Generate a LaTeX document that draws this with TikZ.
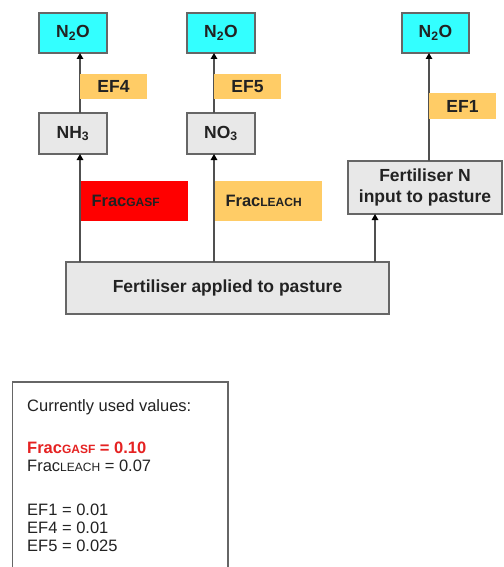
\documentclass[tikz,border=0pt]{standalone}
\usepackage{fontspec}
\setmainfont{Liberation Sans}
\usetikzlibrary{arrows.meta}
\definecolor{cyanbox}{HTML}{33FFFF}
\definecolor{orangebox}{HTML}{FFCC66}
\definecolor{graybox}{HTML}{E8E8E8}
\definecolor{edgegray}{HTML}{666666}
\definecolor{linegray}{HTML}{505050}
\definecolor{redbox}{HTML}{FF0000}
\definecolor{redtext}{HTML}{E52222}
\definecolor{txt}{HTML}{222222}
\newcommand{\smc}[1]{{\fontsize{12}{12}\selectfont #1}}
\tikzset{
  base/.style={inner sep=0pt, outer sep=0pt, text=txt, font=\fontsize{17.5}{21}\selectfont\bfseries},
  gasbox/.style={base, draw=edgegray, line width=1.2pt, fill=cyanbox},
  midbox/.style={base, draw=edgegray, line width=1.2pt, fill=graybox},
  efbox/.style={base, fill=orangebox},
  fracbox/.style={base, font=\fontsize{16.5}{20}\selectfont\bfseries, anchor=north west, text width=85pt, inner xsep=11pt, align=left},
  arr/.style={draw=linegray, line width=1.3pt, -{Triangle[length=6pt,width=6.5pt,color=black]}},
  valtext/.style={inner sep=0pt, text=txt, font=\fontsize{16.5}{19}\selectfont},
}
\begin{document}
\begin{tikzpicture}[x=1pt,y=-1pt]
\path[use as bounding box] (0,0) rectangle (503,567);
\clip (0,0) rectangle (503,567);
\fill[white] (0,0) rectangle (503,567);

% top gas boxes
\node[gasbox, minimum width=68pt, minimum height=40pt] (g1) at (73,33) {N\textsubscript{2}O};
\node[gasbox, minimum width=68pt, minimum height=40pt] (g2) at (221,33) {N\textsubscript{2}O};
\node[gasbox, minimum width=67pt, minimum height=40pt] (g3) at (435.5,33) {N\textsubscript{2}O};

% intermediate boxes
\node[midbox, minimum width=68pt, minimum height=41pt] (nh3) at (73,133.5) {NH\textsubscript{3}};
\node[midbox, minimum width=68pt, minimum height=41pt] (no3) at (221,133.5) {NO\textsubscript{3}};

% fertiliser boxes
\node[midbox, minimum width=154pt, minimum height=53pt, align=center] (fn) at (425,187.5) {Fertiliser N\\[0pt]input to pasture};
\node[midbox, minimum width=323pt, minimum height=52pt] (fap) at (227.5,288) {Fertiliser applied to pasture};

% connectors
\coordinate (c1) at (80,0);
\coordinate (c2) at (214,0);
\coordinate (c3) at (429,0);
\coordinate (c4) at (375,0);
\draw[arr] (fap.north -| c1) -- (nh3.south -| c1);
\draw[arr] (nh3.north -| c1) -- (g1.south -| c1);
\draw[arr] (fap.north -| c2) -- (no3.south -| c2);
\draw[arr] (no3.north -| c2) -- (g2.south -| c2);
\draw[arr] (fn.north -| c3) -- (g3.south -| c3);
\draw[arr] (fap.north -| c4) -- (fn.south -| c4);

% factor labels
\node[efbox, minimum width=67pt, minimum height=25pt] (ef4) at (113.5,86.5) {EF4};
\node[efbox, minimum width=67pt, minimum height=25pt] (ef5) at (247.5,86.5) {EF5};
\node[efbox, minimum width=67pt, minimum height=26pt] (ef1) at (462.5,106) {EF1};
\node[fracbox, fill=redbox, minimum height=40pt] (fg) at (80.5,181) {Frac\smc{GASF}};
\node[fracbox, fill=orangebox, minimum height=40pt] (fl) at (214.5,181) {Frac\smc{LEACH}};

% values box
\draw[edgegray, line width=1.2pt] (12.7,382) rectangle (228,600);
\node[valtext, anchor=base west] (v0) at (27,411) {Currently used values:};
\node[valtext, anchor=base west, text=redtext, font=\fontsize{16.5}{19}\selectfont\bfseries] (v1) at (27,453) {Frac\smc{GASF} = 0.10};
\node[valtext, anchor=base west] (v2) at (27,471) {Frac\smc{LEACH} = 0.07};
\node[valtext, anchor=base west] (v3) at (27,515) {EF1 = 0.01};
\node[valtext, anchor=base west] (v4) at (27,533) {EF4 = 0.01};
\node[valtext, anchor=base west] (v5) at (27,551) {EF5 = 0.025};
\end{tikzpicture}
\end{document}
